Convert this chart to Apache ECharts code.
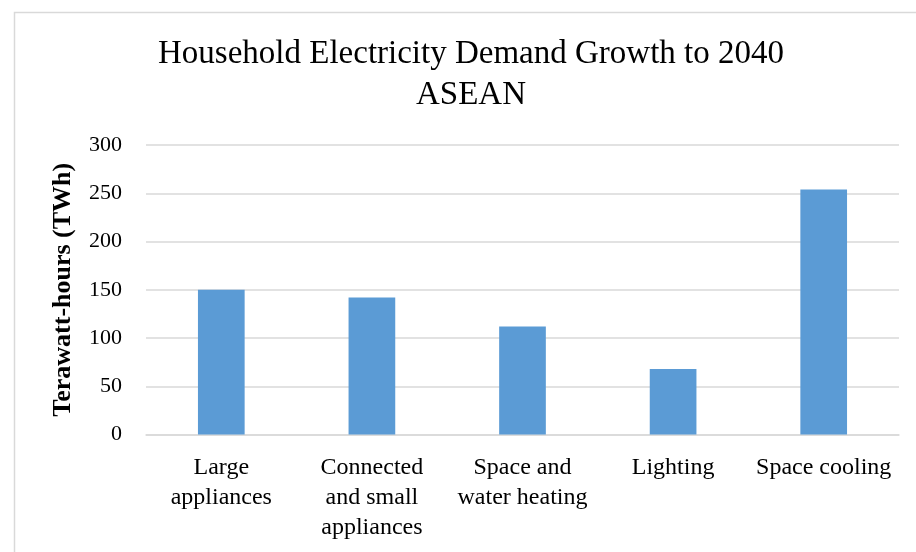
<!DOCTYPE html>
<html>
<head>
<meta charset="utf-8">
<script src="https://cdn.jsdelivr.net/npm/echarts@6/dist/echarts.min.js"></script>
<style>
html,body{margin:0;padding:0;background:#fff;}
#chart{width:916px;height:552px;}
</style>
</head>
<body>
<div id="chart"></div>
<script>
const categories = ['Large\nappliances', 'Connected\nand small\nappliances', 'Space and\nwater heating', 'Lighting', 'Space cooling'];
const demandTWh = [150, 142, 112, 68, 254];
const yTicks = { min: 0, max: 300, interval: 50 };
const titleLines = ['Household Electricity Demand Growth to 2040', 'ASEAN'];
const yAxisName = 'Terawatt-hours (TWh)';

const serif = '"Liberation Serif", "DejaVu Serif", serif';
const chart = echarts.init(document.getElementById('chart'), null, { renderer: 'canvas' });
chart.setOption({
  animation: false,
  backgroundColor: '#ffffff',
  title: {
    text: titleLines.join('\n'),
    left: 471,
    top: 34,
    textAlign: 'center',
    padding: 0,
    textStyle: { fontFamily: serif, fontSize: 33, fontWeight: 'normal', color: '#000', lineHeight: 41 }
  },
  graphic: [{
    type: 'rect',
    shape: { x: 14.5, y: 12.5, width: 1000, height: 1000 },
    style: { fill: 'none', stroke: '#d9d9d9', lineWidth: 1.5 },
    silent: true
  }],
  grid: { left: 146, right: 17, top: 145, bottom: 117.5, containLabel: false },
  xAxis: {
    type: 'category',
    data: categories,
    axisLine: { show: true, lineStyle: { color: '#d9d9d9', width: 1.5 } },
    axisTick: { show: false },
    axisLabel: { interval: 0, margin: 18, fontFamily: serif, fontSize: 24, lineHeight: 30, color: '#000', verticalAlign: 'top' }
  },
  yAxis: {
    type: 'value',
    min: yTicks.min, max: yTicks.max, interval: yTicks.interval,
    name: yAxisName,
    nameLocation: 'middle',
    nameGap: 70,
    nameRotate: 90,
    nameTextStyle: { fontFamily: serif, fontSize: 26, fontWeight: 'bold', color: '#000' },
    axisLine: { show: false },
    axisTick: { show: false },
    axisLabel: { margin: 24, fontFamily: serif, fontSize: 22, color: '#000' },
    splitLine: { show: true, lineStyle: { color: '#d9d9d9', width: 1.5 } }
  },
  series: [{
    type: 'bar',
    data: demandTWh,
    barWidth: '31%',
    itemStyle: { color: '#5b9bd5' },
    silent: true
  }]
});
</script>
</body>
</html>
